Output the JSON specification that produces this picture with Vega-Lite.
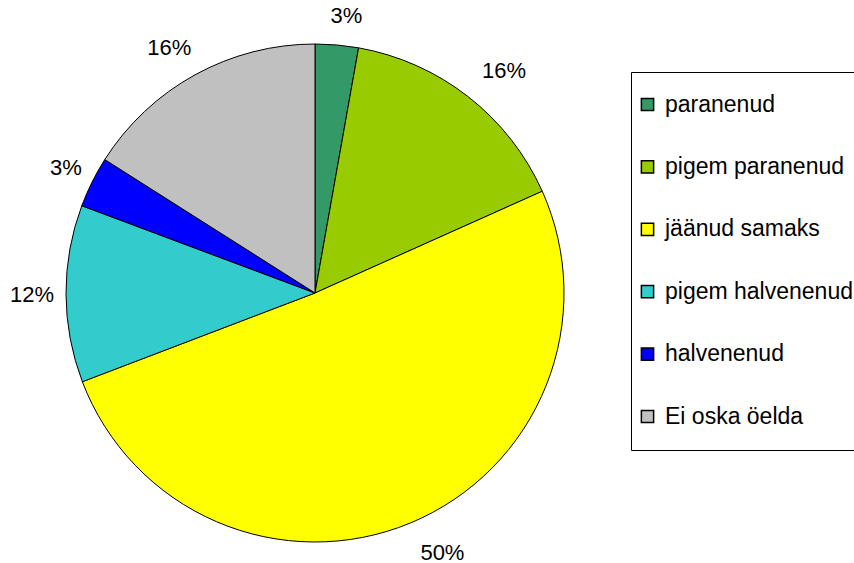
{
  "$schema": "https://vega.github.io/schema/vega-lite/v6.json",
  "autosize": "none",
  "width": 630,
  "height": 540,
  "padding": {"top": 23, "left": 0, "right": 224, "bottom": 0},
  "background": "white",
  "config": {"view": {"stroke": null}, "font": "Liberation Sans"},
  "data": {
    "values": [
      {"kategooria": "paranenud", "osa": 2.8, "silt": "3%", "jrk": 1},
      {"kategooria": "pigem paranenud", "osa": 15.5, "silt": "16%", "jrk": 2},
      {"kategooria": "jäänud samaks", "osa": 50.9, "silt": "50%", "jrk": 3},
      {"kategooria": "pigem halvenenud", "osa": 11.5, "silt": "12%", "jrk": 4},
      {"kategooria": "halvenenud", "osa": 3.3, "silt": "3%", "jrk": 5},
      {"kategooria": "Ei oska öelda", "osa": 16.0, "silt": "16%", "jrk": 6}
    ]
  },
  "encoding": {
    "theta": {"field": "osa", "type": "quantitative", "stack": true},
    "order": {"field": "jrk", "type": "quantitative"}
  },
  "layer": [
    {
      "mark": {"type": "arc", "outerRadius": 249, "stroke": "black", "strokeWidth": 1},
      "encoding": {
        "color": {
          "field": "kategooria",
          "type": "nominal",
          "sort": ["paranenud", "pigem paranenud", "jäänud samaks", "pigem halvenenud", "halvenenud", "Ei oska öelda"],
          "scale": {
            "domain": ["paranenud", "pigem paranenud", "jäänud samaks", "pigem halvenenud", "halvenenud", "Ei oska öelda"],
            "range": ["#339966", "#99CC00", "#FFFF00", "#33CCCC", "#0000FF", "#C0C0C0"]
          },
          "legend": {
            "title": null,
            "orient": "none",
            "legendX": 631,
            "legendY": 49,
            "symbolType": "square",
            "symbolSize": 150,
            "symbolStrokeColor": "black",
            "symbolStrokeWidth": 1.5,
            "symbolOpacity": 1,
            "symbolOffset": -16,
            "labelFontSize": 23,
            "labelFont": "Liberation Sans",
            "labelColor": "black",
            "labelOffset": 6,
            "labelLimit": 400,
            "rowPadding": 38.4,
            "padding": 21,
            "strokeColor": "black",
            "fillColor": "white"
          }
        }
      }
    },
    {
      "mark": {
        "type": "text",
        "radius": 265,
        "fontSize": 22,
        "font": "Liberation Sans",
        "color": "black",
        "align": "center",
        "baseline": "middle",
        "dx": {"expr": "4+(6.1*(length(datum.silt)-1)+9.8)*clamp(3*sin(PI*(datum.osa_start+datum.osa_end)/100),-1,1)"},
        "dy": {"expr": "1-14*clamp(1.3*cos(PI*(datum.osa_start+datum.osa_end)/100),-1,1)"}
      },
      "encoding": {"text": {"field": "silt", "type": "nominal"}}
    }
  ]
}
